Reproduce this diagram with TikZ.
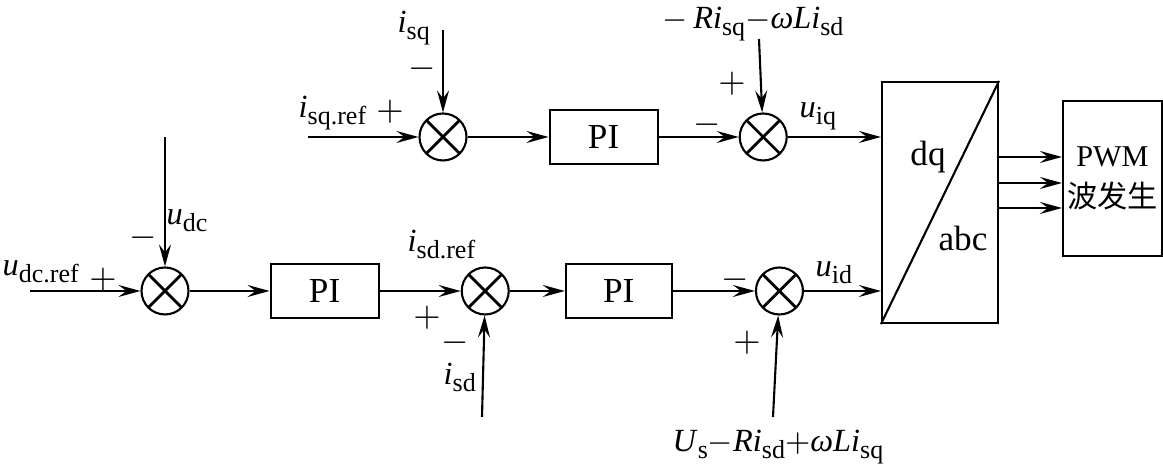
\documentclass[tikz,border=0pt]{standalone}
\usepackage{fontspec}
\setmainfont{Liberation Serif}
\newfontfamily\cjk{Noto Sans CJK SC}
\usetikzlibrary{arrows.meta, positioning}
\newcommand{\sv}[2]{\textit{#1}\raisebox{-0.45ex}{\fontsize{7.4}{8}\selectfont #2}}
\tikzset{
  sumnode/.style={
    circle, draw, semithick,
    minimum size=0.47cm, inner sep=0pt,
    path picture={\draw[thick]
      (path picture bounding box.north west) -- (path picture bounding box.south east)
      (path picture bounding box.north east) -- (path picture bounding box.south west);},
  },
  block/.style={
    rectangle, draw, semithick,
    minimum width=1.08cm, minimum height=0.54cm, inner sep=0pt,
  },
  sign/.style={inner sep=0pt},
  lab/.style={inner sep=0pt, anchor=base west, font=\fontsize{9.2}{10}\selectfont},
  arrow/.style={-{Stealth[length=2.2mm, width=1.2mm, inset=0.8mm]}, semithick},
}

\begin{document}
\begin{tikzpicture}[every node/.style={font=\fontsize{10}{12}\selectfont}]
  \useasboundingbox (0,0) rectangle (11.63,-4.69);

  % q axis
  \node[sumnode] (sumq) at (4.43,-1.37) {};
  \node[block, right=0.81cm of sumq] (piq) {PI};
  \node[sumnode, right=0.80cm of piq] (sumuq) {};

  % d axis
  \node[sumnode] (sumdc) at (1.65,-2.91) {};
  \node[block, right=0.80cm of sumdc] (pidc) {PI};
  \node[sumnode, right=0.81cm of pidc] (sumd) {};
  \node[block, minimum width=1.06cm, right=0.55cm of sumd] (pid) {PI};
  \node[sumnode, right=0.82cm of pid] (sumud) {};

  % transform and PWM
  \node[draw, semithick, minimum width=1.16cm, minimum height=2.41cm] (dqabc) at (9.40,-2.025) {};
  \draw[semithick] (dqabc.south west) -- (dqabc.north east);
  \node (dq) at (9.28,-1.57) {dq};
  \node (abc) at (9.63,-2.38) {abc};
  \node[draw, semithick, minimum width=0.99cm, minimum height=1.55cm, inner sep=0pt,
    align=center, font=\fontsize{8.6}{11.5}\selectfont] (pwm) at (11.125,-1.785)
    {PWM\\{\cjk 波发生}};

  % free ends
  \coordinate (inq) at (3.08,-1.37);
  \coordinate (isq) at (4.43,-0.30);
  \coordinate (ffq) at (7.59,-0.39);
  \coordinate (indc) at (0.30,-2.91);
  \coordinate (udc) at (1.65,-1.37);
  \coordinate (isd) at (4.82,-4.17);
  \coordinate (ffd) at (7.73,-4.17);

  % connectors
  \draw[arrow] (inq) -- (sumq);
  \draw[arrow] (isq) -- (sumq);
  \draw[arrow] (sumq) -- (piq);
  \draw[arrow] (piq) -- (sumuq);
  \draw[arrow] (ffq) -- (sumuq);
  \draw[arrow] (sumuq) -- (sumuq -| dqabc.west);

  \draw[arrow] (indc) -- (sumdc);
  \draw[arrow] (udc) -- (sumdc);
  \draw[arrow] (sumdc) -- (pidc);
  \draw[arrow] (pidc) -- (sumd);
  \draw[arrow] (isd) -- (sumd);
  \draw[arrow] (sumd) -- (pid);
  \draw[arrow] (pid) -- (sumud);
  \draw[arrow] (ffd) -- (sumud);
  \draw[arrow] (sumud) -- (sumud -| dqabc.west);

  \foreach \y in {-1.57,-1.83,-2.08}
    \draw[arrow] (dqabc.east |- 0,\y) -- (pwm.west |- 0,\y);

  % labels
  \node[lab] (lisq) at (3.97,-0.33) {\sv{i}{sq}};
  \node[lab] (lisqref) at (2.98,-1.18) {\sv{i}{sq.ref}};
  \node[lab] (lffq) at (6.62,-0.29) {$-$\,\sv{Ri}{sq}$-$\sv{ωLi}{sd}};
  \node[lab] (luiq) at (7.99,-1.18) {\sv{u}{iq}};
  \node[lab] (ludc) at (1.66,-2.25) {\sv{u}{dc}};
  \node[lab] (ludcref) at (0.02,-2.76) {\sv{u}{dc.ref}};
  \node[lab] (lisdref) at (4.07,-2.52) {\sv{i}{sd.ref}};
  \node[lab] (lisd) at (4.43,-3.85) {\sv{i}{sd}};
  \node[lab] (luid) at (8.15,-2.77) {\sv{u}{id}};
  \node[lab] (lffd) at (6.72,-4.52) {\sv{U}{s}$-$\sv{Ri}{sd}$+$\sv{ωLi}{sq}};

  % signs
  \node[sign] (s1) at (4.22,-0.69) {$-$};
  \node[sign] (s2) at (3.90,-1.12) {$+$};
  \node[sign] (s3) at (7.32,-0.84) {$+$};
  \node[sign] (s4) at (7.07,-1.25) {$-$};
  \node[sign] (s5) at (1.43,-2.38) {$-$};
  \node[sign] (s6) at (1.03,-2.80) {$+$};
  \node[sign] (s7) at (4.27,-3.18) {$+$};
  \node[sign] (s8) at (4.55,-3.43) {$-$};
  \node[sign] (s9) at (7.35,-2.80) {$-$};
  \node[sign] (s10) at (7.47,-3.43) {$+$};
\end{tikzpicture}
\end{document}
